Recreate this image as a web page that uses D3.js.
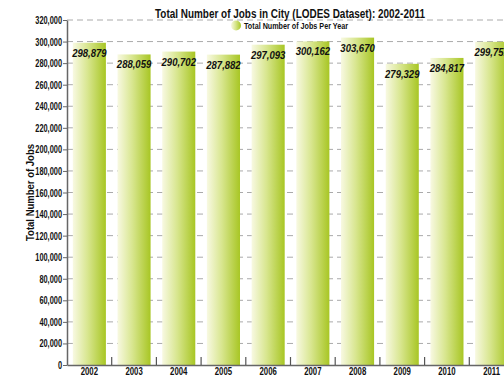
<!DOCTYPE html>
<html>
<head>
<meta charset="utf-8">
<script src="https://cdn.jsdelivr.net/npm/d3@7"></script>
<style>
	body { margin: 0; background: #fff; }
	svg text { font-family: 'Liberation Sans', Arial, sans-serif; font-weight: bold; fill: #111; }
</style>
</head>
<body>
<div id="chart"></div>
<script>
const years = ['2002', '2003', '2004', '2005', '2006', '2007', '2008', '2009', '2010', '2011']
const jobs = [298879, 288059, 290702, 287882, 297093, 300162, 303670, 279329, 284817, 299751]
const yTicks = [0, 20000, 40000, 60000, 80000, 100000, 120000, 140000, 160000, 180000, 200000, 220000, 240000, 260000, 280000, 300000, 320000]

const width = 504
const height = 377
const margin = { top: 20, left: 67, bottom: 12 }
const plotRight = 514

const svg = d3
	.select('#chart')
	.append('svg')
	.attr('width', width)
	.attr('height', height)

// no condensed font installed, so squeeze the glyphs horizontally
function condense(sel, sx) {
	sel.each(function () {
		const t = d3.select(this)
		const tx = +t.attr('x') || 0
		const ty = +t.attr('y') || 0
		t.attr('x', 0)
			.attr('y', 0)
			.attr('transform', `translate(${tx},${ty}) scale(${sx},1)`)
	})
}

const defs = svg.append('defs')
const grad = defs
	.append('linearGradient')
	.attr('id', 'barGrad')
	.attr('x1', '0%')
	.attr('x2', '100%')
grad.append('stop').attr('offset', '0%').attr('stop-color', '#f8f9e2')
grad.append('stop').attr('offset', '45%').attr('stop-color', '#d8e68f')
grad.append('stop').attr('offset', '100%').attr('stop-color', '#a8c624')

const x = d3
	.scaleBand()
	.domain(years)
	.range([margin.left, plotRight])
	.paddingInner(0.26)
	.paddingOuter(0.13)

const y = d3
	.scaleLinear()
	.domain([0, 320000])
	.range([height - margin.bottom, margin.top])

// dashed grid
svg.append('g')
	.selectAll('line')
	.data(yTicks.slice(1))
	.enter()
	.append('line')
	.attr('x1', margin.left)
	.attr('x2', width)
	.attr('y1', d => y(d))
	.attr('y2', d => y(d))
	.attr('stroke', '#aaa')
	.attr('stroke-width', 1)
	.attr('stroke-dasharray', '6,4')

// bars
svg.append('g')
	.selectAll('rect')
	.data(jobs)
	.enter()
	.append('rect')
	.attr('x', (d, i) => x(years[i]))
	.attr('y', d => y(d))
	.attr('width', x.bandwidth())
	.attr('height', d => y(0) - y(d))
	.attr('fill', 'url(#barGrad)')

// value labels
svg.append('g')
	.selectAll('text')
	.data(jobs)
	.enter()
	.append('text')
	.attr('x', (d, i) => x(years[i]) + x.bandwidth() / 2)
	.attr('y', d => y(d) + 14)
	.attr('text-anchor', 'middle')
	.style('font-size', '11.5px')
	.style('font-style', 'italic')
	.text(d => d3.format(',')(d))
	.call(condense, 0.83)

// y axis
const yAxis = svg
	.append('g')
	.attr('transform', `translate(${margin.left},0)`)
	.call(
		d3.axisLeft(y)
			.tickValues(yTicks)
			.tickFormat(d3.format(','))
			.tickSize(4)
			.tickSizeOuter(0)
			.tickPadding(1)
	)
yAxis.select('.domain').attr('stroke', '#666').attr('stroke-width', 1.5)
yAxis.selectAll('.tick line').attr('stroke', '#666')
yAxis.selectAll('text')
	.style('font-size', '10px')
	.attr('y', 3.5)
	.attr('dy', null)
	.call(condense, 0.74)

// x axis
const xAxis = svg
	.append('g')
	.attr('transform', `translate(0,${y(0)})`)
	.call(d3.axisBottom(x).tickSize(0).tickSizeOuter(0))
xAxis.select('.domain').attr('stroke', '#666').attr('stroke-width', 1.5)
xAxis.selectAll('text')
	.style('font-size', '10px')
	.attr('y', 10)
	.attr('dy', null)
	.call(condense, 0.78)

// separators between categories
const step = x.step()
svg.append('g')
	.selectAll('line')
	.data(years.slice(1))
	.enter()
	.append('line')
	.attr('x1', d => x(d) - (step - x.bandwidth()) / 2)
	.attr('x2', d => x(d) - (step - x.bandwidth()) / 2)
	.attr('y1', y(0) - 8)
	.attr('y2', y(0))
	.attr('stroke', '#555')
	.attr('stroke-width', 1.2)

// title
svg.append('text')
	.attr('x', 155)
	.attr('y', 18)
	.attr('textLength', 270)
	.attr('lengthAdjust', 'spacingAndGlyphs')
	.style('font-size', '13.5px')
	.text('Total Number of Jobs in City (LODES Dataset): 2002-2011')

// legend
svg.append('circle')
	.attr('cx', 236)
	.attr('cy', 25.5)
	.attr('r', 5)
	.attr('fill', 'url(#barGrad)')
svg.append('text')
	.attr('x', 244)
	.attr('y', 29)
	.attr('textLength', 104)
	.attr('lengthAdjust', 'spacingAndGlyphs')
	.style('font-size', '9.5px')
	.text('Total Number of Jobs Per Year')

// y axis title
svg.append('text')
	.attr('transform', 'translate(34,193) rotate(-90)')
	.attr('x', -48)
	.attr('textLength', 97)
	.attr('lengthAdjust', 'spacingAndGlyphs')
	.style('font-size', '11.5px')
	.text('Total Number of Jobs')
</script>
</body>
</html>
